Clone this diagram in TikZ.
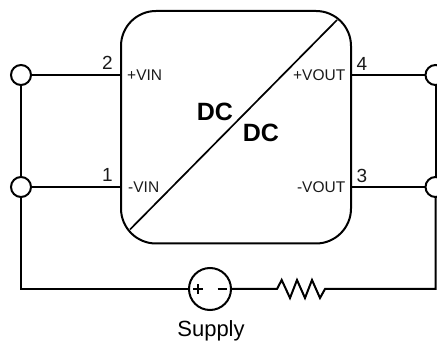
\documentclass[tikz,border=0pt]{standalone}
\usepackage{fontspec}
\setmainfont{Liberation Sans}
\tikzset{
  wire/.style={line width=2pt,line join=miter},
  term/.style={circle,draw,line width=2pt,fill=white,minimum size=20pt,inner sep=0pt},
  pinname/.style={font=\fontsize{15.5}{15.5}\selectfont,inner sep=0pt,text=black!90},
  pinnum/.style={font=\fontsize{19}{19}\selectfont,inner sep=0pt,text=black!90},
  dclabel/.style={font=\fontsize{25}{25}\selectfont\bfseries,inner sep=0pt},
}
\begin{document}
\begin{tikzpicture}[x=1pt,y=-1pt]
\useasboundingbox (0,0) rectangle (437,342);
\node[draw,line width=2pt,rounded corners=35pt,minimum width=230pt,minimum height=232.5pt,inner sep=0pt,anchor=north west] (box) at (120,10) {};
\coordinate (d1) at (337,20);
\coordinate (d2) at (130,229.5);
\draw[line width=1.7pt] (d1) -- (d2);
\coordinate (p2) at (120,75);
\coordinate (p1) at (120,187);
\coordinate (p4) at (350,75);
\coordinate (p3) at (350,187);
\coordinate (bl) at (21,289);
\coordinate (br) at (435.5,289);
\coordinate (r1) at (277,289);
\coordinate (r2) at (325,289);
\node[term] (t2) at (21,75) {};
\node[term] (t1) at (21,187) {};
\node[term] (t4) at (435.5,75) {};
\node[term] (t3) at (435.5,187) {};
\draw[wire] (t2) -- (p2);
\draw[wire] (t1) -- (p1);
\draw[wire] (t4) -- (p4);
\draw[wire] (t3) -- (p3);
\draw[wire] (t2) -- (t1);
\draw[wire] (t4) -- (t3);
\node[circle,draw,line width=2pt,minimum size=42pt,inner sep=0pt] (sup) at (210,289) {};
\draw[wire] (t1) -- (bl) -- (sup);
\draw[wire] (sup) -- (r1) -- (281.7,280) -- (290,298) -- (297,280) -- (305,298) -- (312,280) -- (320,298) -- (r2) -- (br) -- (t3);
\draw[line width=1.8pt] (193,289) -- (202.5,289) (197.7,284.5) -- (197.7,293.5);
\draw[line width=1.8pt] (217.7,289) -- (227,289);
\node[pinname,anchor=west] at (127,75.5) {+VIN};
\node[pinname,anchor=west] at (128,187.5) {-VIN};
\node[pinname,anchor=east] at (345.5,75.5) {+VOUT};
\node[pinname,anchor=east] at (345.5,187.5) {-VOUT};
\node[pinnum] at (107.5,62.5) {2};
\node[pinnum] at (107.5,175) {1};
\node[pinnum] at (362,63.5) {4};
\node[pinnum] at (362,176) {3};
\node[dclabel] at (215,112) {DC};
\node[dclabel] at (261,132.5) {DC};
\node[font=\fontsize{22}{22}\selectfont,inner sep=0pt,anchor=base] (supl) at (211,336) {Supply};
\end{tikzpicture}
\end{document}
